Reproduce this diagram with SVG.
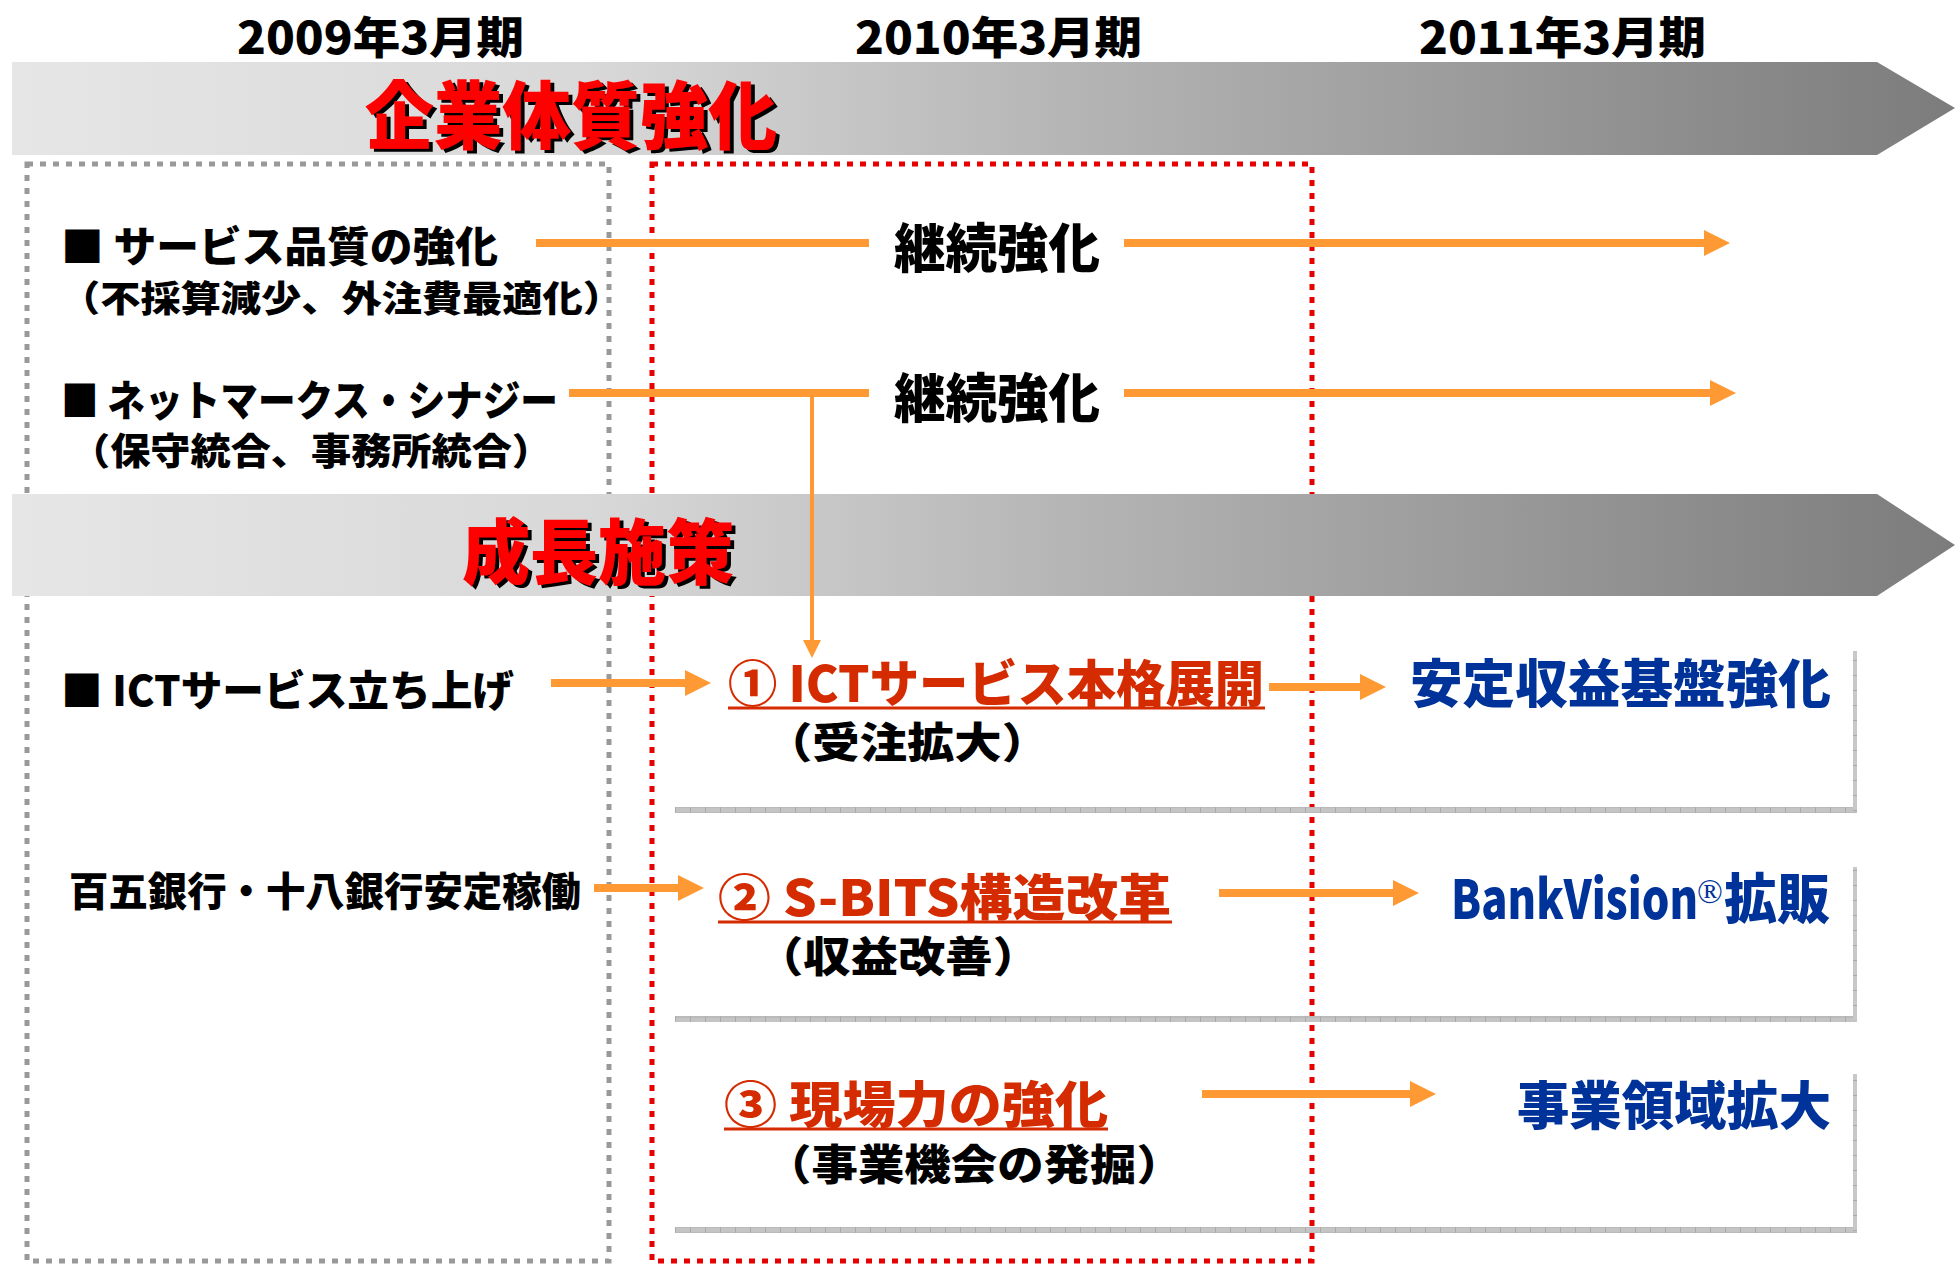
<svg xmlns="http://www.w3.org/2000/svg" width="1955" height="1265" viewBox="0 0 1955 1265">
<defs>
<linearGradient id="band" gradientUnits="userSpaceOnUse" x1="12" y1="0" x2="1955" y2="0">
<stop offset="0" stop-color="#e6e6e6"/>
<stop offset="0.3" stop-color="#d8d8d8"/>
<stop offset="0.55" stop-color="#b4b4b4"/>
<stop offset="1" stop-color="#7c7c7c"/>
</linearGradient>
<filter id="sh" x="-5%" y="-10%" width="115%" height="130%">
<feOffset in="SourceAlpha" dx="4" dy="3" result="o"/>
<feFlood flood-color="#000000"/>
<feComposite in2="o" operator="in" result="s"/>
<feMerge><feMergeNode in="s"/><feMergeNode in="SourceGraphic"/></feMerge>
</filter>
<pattern id="tickH" patternUnits="userSpaceOnUse" width="15" height="6">
<rect width="15" height="6" fill="#c4c4c4"/>
<rect x="0" width="1" height="6" fill="#a9a9a9"/>
<rect y="2.5" width="15" height="1" fill="#b0b0b0"/>
</pattern>
<pattern id="tickV" patternUnits="userSpaceOnUse" width="4" height="15">
<rect width="4" height="15" fill="#c8c8c8"/>
<rect y="0" width="4" height="1" fill="#a9a9a9"/>
</pattern>
<marker id="ah" markerUnits="userSpaceOnUse" viewBox="0 0 26 26" markerWidth="26" markerHeight="26" refX="15" refY="13" orient="auto">
<path d="M0,0 L26,13 L0,26 z" fill="#ff9933"/>
</marker>
<marker id="ahs" markerUnits="userSpaceOnUse" viewBox="0 0 18 18" markerWidth="18" markerHeight="18" refX="8" refY="9" orient="auto">
<path d="M0,0 L18,9 L0,18 z" fill="#ff9933"/>
</marker>
</defs>
<style>
text{font-family:'Noto Sans CJK JP','Noto Sans CJK SC',sans-serif;font-weight:900;}
.blk{fill:#000;}
.title{fill:#ff0000;filter:url(#sh);}
.red{fill:#d52b00;}
.blue{fill:#003399;}
.dotG{fill:none;stroke:#999999;stroke-width:5;stroke-dasharray:6 7;}
.dotR{fill:none;stroke:#e60000;stroke-width:5;stroke-dasharray:6 7;}
.conn{fill:none;stroke:#ff9933;stroke-width:8;}
.ul{stroke:#d52b00;stroke-width:3;}
</style>
<rect width="1955" height="1265" fill="#ffffff"/>

<g id="frames">
<rect class="dotG" x="27" y="164" width="582" height="1097"/>
<rect class="dotR" x="652" y="164" width="660" height="1097"/>
</g>

<g id="year-labels">
<text x="237" y="54" font-size="44" textLength="287" lengthAdjust="spacingAndGlyphs" class="blk">2009年3月期</text>
<text x="855" y="54" font-size="44" textLength="287" lengthAdjust="spacingAndGlyphs" class="blk">2010年3月期</text>
<text x="1419" y="54" font-size="44" textLength="287" lengthAdjust="spacingAndGlyphs" class="blk">2011年3月期</text>
</g>

<g id="band-kigyo">
<polygon points="12,62 1877,62 1955,108 1877,155 12,155" fill="url(#band)"/>
<text class="title" x="365" y="143" font-size="74" textLength="412" lengthAdjust="spacingAndGlyphs">企業体質強化</text>
</g>

<g id="band-seicho">
<polygon points="12,494 1877,494 1955,545 1877,596 12,596" fill="url(#band)"/>
<text class="title" x="462" y="578" font-size="71" textLength="272" lengthAdjust="spacingAndGlyphs">成長施策</text>
</g>

<g id="box-frames">
<rect x="675" y="807" width="1182" height="6" fill="url(#tickH)"/>
<rect x="1853" y="651" width="4" height="160" fill="url(#tickV)"/>
<rect x="675" y="1016" width="1182" height="6" fill="url(#tickH)"/>
<rect x="1853" y="867" width="4" height="153" fill="url(#tickV)"/>
<rect x="675" y="1227" width="1182" height="6" fill="url(#tickH)"/>
<rect x="1853" y="1074" width="4" height="157" fill="url(#tickV)"/>
</g>

<g id="node-service">
<text x="61" y="262" font-size="42" textLength="437" lengthAdjust="spacingAndGlyphs" class="blk">■ サービス品質の強化</text>
<text x="60" y="312" font-size="36" textLength="563" lengthAdjust="spacingAndGlyphs" class="blk">（不採算減少、外注費最適化）</text>
</g>

<g id="node-netmarks">
<text x="61" y="416" font-size="42" textLength="497" lengthAdjust="spacingAndGlyphs" class="blk">■ ネットマークス・シナジー</text>
<text x="70" y="465" font-size="37" textLength="482" lengthAdjust="spacingAndGlyphs" class="blk">（保守統合、事務所統合）</text>
</g>

<g id="node-keizoku1">
<text x="894" y="268" font-size="53" textLength="206" lengthAdjust="spacingAndGlyphs" class="blk">継続強化</text>
</g>
<g id="node-keizoku2">
<text x="894" y="418" font-size="53" textLength="206" lengthAdjust="spacingAndGlyphs" class="blk">継続強化</text>
</g>

<g id="node-ict-start">
<text x="61" y="706" font-size="42" textLength="453" lengthAdjust="spacingAndGlyphs" class="blk">■ ICTサービス立ち上げ</text>
</g>

<g id="node-banks">
<text x="69" y="906" font-size="40" textLength="512" lengthAdjust="spacingAndGlyphs" class="blk">百五銀行・十八銀行安定稼働</text>
</g>

<g id="node-ict">
<text x="728" y="702" font-size="50" textLength="536" lengthAdjust="spacingAndGlyphs" class="red">① ICTサービス本格展開</text>
<line class="ul" x1="728" y1="708" x2="1265" y2="708"/>
<text x="765" y="758" font-size="42" textLength="284" lengthAdjust="spacingAndGlyphs" class="blk">（受注拡大）</text>
</g>

<g id="node-sbits">
<text x="718" y="916" font-size="50" textLength="453" lengthAdjust="spacingAndGlyphs" class="red">② S-BITS構造改革</text>
<line class="ul" x1="718" y1="922" x2="1172" y2="922"/>
<text x="756" y="972" font-size="42" textLength="284" lengthAdjust="spacingAndGlyphs" class="blk">（収益改善）</text>
</g>

<g id="node-genba">
<text x="724" y="1123" font-size="50" textLength="384" lengthAdjust="spacingAndGlyphs" class="red">③ 現場力の強化</text>
<line class="ul" x1="724" y1="1129" x2="1108" y2="1129"/>
<text x="765" y="1180" font-size="42" textLength="418" lengthAdjust="spacingAndGlyphs" class="blk">（事業機会の発掘）</text>
</g>

<g id="node-antei">
<text x="1410" y="703" font-size="52" textLength="421" lengthAdjust="spacingAndGlyphs" class="blue">安定収益基盤強化</text>
</g>
<g id="node-bankvision">
<text x="1451" y="919" font-size="54" class="blue"><tspan textLength="247" lengthAdjust="spacingAndGlyphs">BankVision</tspan><tspan x="1697" dy="-16" font-size="34" font-weight="400" font-family="'Liberation Serif', serif">®</tspan><tspan x="1724" dy="16" textLength="106" lengthAdjust="spacingAndGlyphs">拡販</tspan></text>
</g>
<g id="node-jigyo">
<text x="1517" y="1125" font-size="52" textLength="314" lengthAdjust="spacingAndGlyphs" class="blue">事業領域拡大</text>
</g>

<g id="connectors">
<line class="conn" x1="536" y1="243" x2="869" y2="243"/>
<line class="conn" x1="1124" y1="243" x2="1719" y2="243" marker-end="url(#ah)"/>
<line class="conn" x1="569" y1="393" x2="869" y2="393"/>
<line class="conn" x1="1124" y1="393" x2="1725" y2="393" marker-end="url(#ah)"/>
<line fill="none" stroke="#ff9933" stroke-width="4" x1="812" y1="393" x2="812" y2="648" marker-end="url(#ahs)"/>
<line class="conn" x1="551" y1="683" x2="700" y2="683" marker-end="url(#ah)"/>
<line class="conn" x1="1269" y1="687" x2="1375" y2="687" marker-end="url(#ah)"/>
<line class="conn" x1="594" y1="888" x2="693" y2="888" marker-end="url(#ah)"/>
<line class="conn" x1="1219" y1="893" x2="1408" y2="893" marker-end="url(#ah)"/>
<line class="conn" x1="1202" y1="1094" x2="1425" y2="1094" marker-end="url(#ah)"/>
</g>
</svg>
